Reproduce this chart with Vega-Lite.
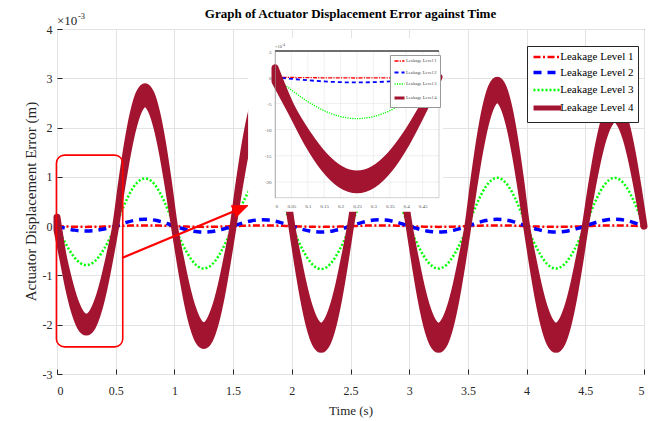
{
"$schema": "https://vega.github.io/schema/vega-lite/v6.json",
"width": 587, "height": 345,
"autosize": {"type": "none"},
"padding": {"left": 57, "top": 29, "right": 10, "bottom": 47},
"background": "white",
"config": {
  "font": "Liberation Serif",
  "view": {"stroke": "#262626", "strokeWidth": 1},
  "axis": {"labelFont": "Liberation Serif", "titleFont": "Liberation Serif", "labelColor": "#262626", "titleColor": "#262626", "titleFontWeight": "normal"},
  "legend": {"labelFont": "Liberation Serif"},
  "text": {"font": "Liberation Serif"}
},
"title": {"text": "Graph of Actuator Displacement Error against Time", "fontSize": 13, "fontWeight": "bold", "font": "Liberation Serif", "anchor": "middle", "frame": "group", "offset": 8, "dy": 17, "color": "#000000"},
"data": {"values": [
{"t":0,"l1":0,"l2":0,"l3":0,"lo":-0.08,"hi":0.18},
{"t":0.05,"l1":-0.005,"l2":-0.031,"l3":-0.244,"lo":-0.664,"hi":-0.572},
{"t":0.1,"l1":-0.009,"l2":-0.059,"l3":-0.465,"lo":-1.264,"hi":-1.088},
{"t":0.15,"l1":-0.012,"l2":-0.081,"l3":-0.639,"lo":-1.739,"hi":-1.497},
{"t":0.2,"l1":-0.014,"l2":-0.095,"l3":-0.751,"lo":-2.045,"hi":-1.759},
{"t":0.25,"l1":-0.015,"l2":-0.1,"l3":-0.79,"lo":-2.15,"hi":-1.85},
{"t":0.3,"l1":-0.014,"l2":-0.095,"l3":-0.751,"lo":-2.045,"hi":-1.759},
{"t":0.35,"l1":-0.012,"l2":-0.081,"l3":-0.639,"lo":-1.739,"hi":-1.497},
{"t":0.4,"l1":-0.009,"l2":-0.059,"l3":-0.465,"lo":-1.264,"hi":-1.088},
{"t":0.45,"l1":-0.005,"l2":-0.031,"l3":-0.244,"lo":-0.664,"hi":-0.572},
{"t":0.5,"l1":0,"l2":0,"l3":0,"lo":0,"hi":0},
{"t":0.55,"l1":0.005,"l2":0.043,"l3":0.3,"lo":0.769,"hi":0.874},
{"t":0.6,"l1":0.009,"l2":0.082,"l3":0.57,"lo":1.464,"hi":1.664},
{"t":0.65,"l1":0.012,"l2":0.113,"l3":0.785,"lo":2.014,"hi":2.289},
{"t":0.7,"l1":0.014,"l2":0.133,"l3":0.922,"lo":2.368,"hi":2.691},
{"t":0.75,"l1":0.015,"l2":0.14,"l3":0.97,"lo":2.49,"hi":2.83},
{"t":0.8,"l1":0.014,"l2":0.133,"l3":0.922,"lo":2.368,"hi":2.691},
{"t":0.85,"l1":0.012,"l2":0.113,"l3":0.785,"lo":2.014,"hi":2.289},
{"t":0.9,"l1":0.009,"l2":0.082,"l3":0.57,"lo":1.464,"hi":1.664},
{"t":0.95,"l1":0.005,"l2":0.043,"l3":0.3,"lo":0.769,"hi":0.874},
{"t":1.0,"l1":0,"l2":0,"l3":0,"lo":0,"hi":0},
{"t":1.05,"l1":-0.005,"l2":-0.037,"l3":-0.266,"lo":-0.748,"hi":-0.624},
{"t":1.1,"l1":-0.009,"l2":-0.071,"l3":-0.506,"lo":-1.423,"hi":-1.188},
{"t":1.15,"l1":-0.012,"l2":-0.097,"l3":-0.696,"lo":-1.958,"hi":-1.634},
{"t":1.2,"l1":-0.014,"l2":-0.114,"l3":-0.818,"lo":-2.301,"hi":-1.921},
{"t":1.25,"l1":-0.015,"l2":-0.12,"l3":-0.86,"lo":-2.42,"hi":-2.02},
{"t":1.3,"l1":-0.014,"l2":-0.114,"l3":-0.818,"lo":-2.301,"hi":-1.921},
{"t":1.35,"l1":-0.012,"l2":-0.097,"l3":-0.696,"lo":-1.958,"hi":-1.634},
{"t":1.4,"l1":-0.009,"l2":-0.071,"l3":-0.506,"lo":-1.423,"hi":-1.188},
{"t":1.45,"l1":-0.005,"l2":-0.037,"l3":-0.266,"lo":-0.748,"hi":-0.624},
{"t":1.5,"l1":0,"l2":0,"l3":0,"lo":0,"hi":0},
{"t":1.55,"l1":0.005,"l2":0.04,"l3":0.294,"lo":0.748,"hi":0.859},
{"t":1.6,"l1":0.009,"l2":0.076,"l3":0.559,"lo":1.423,"hi":1.635},
{"t":1.65,"l1":0.012,"l2":0.105,"l3":0.769,"lo":1.958,"hi":2.249},
{"t":1.7,"l1":0.014,"l2":0.124,"l3":0.903,"lo":2.301,"hi":2.644},
{"t":1.75,"l1":0.015,"l2":0.13,"l3":0.95,"lo":2.42,"hi":2.78},
{"t":1.8,"l1":0.014,"l2":0.124,"l3":0.903,"lo":2.301,"hi":2.644},
{"t":1.85,"l1":0.012,"l2":0.105,"l3":0.769,"lo":1.958,"hi":2.249},
{"t":1.9,"l1":0.009,"l2":0.076,"l3":0.559,"lo":1.423,"hi":1.635},
{"t":1.95,"l1":0.005,"l2":0.04,"l3":0.294,"lo":0.748,"hi":0.859},
{"t":2.0,"l1":0,"l2":0,"l3":0,"lo":0,"hi":0},
{"t":2.05,"l1":-0.005,"l2":-0.037,"l3":-0.269,"lo":-0.773,"hi":-0.627},
{"t":2.1,"l1":-0.009,"l2":-0.071,"l3":-0.512,"lo":-1.47,"hi":-1.194},
{"t":2.15,"l1":-0.012,"l2":-0.097,"l3":-0.704,"lo":-2.023,"hi":-1.642},
{"t":2.2,"l1":-0.014,"l2":-0.114,"l3":-0.827,"lo":-2.378,"hi":-1.931},
{"t":2.25,"l1":-0.015,"l2":-0.12,"l3":-0.87,"lo":-2.5,"hi":-2.03},
{"t":2.3,"l1":-0.014,"l2":-0.114,"l3":-0.827,"lo":-2.378,"hi":-1.931},
{"t":2.35,"l1":-0.012,"l2":-0.097,"l3":-0.704,"lo":-2.023,"hi":-1.642},
{"t":2.4,"l1":-0.009,"l2":-0.071,"l3":-0.512,"lo":-1.47,"hi":-1.194},
{"t":2.45,"l1":-0.005,"l2":-0.037,"l3":-0.269,"lo":-0.773,"hi":-0.627},
{"t":2.5,"l1":0,"l2":0,"l3":0,"lo":0,"hi":0},
{"t":2.55,"l1":0.005,"l2":0.04,"l3":0.278,"lo":0.686,"hi":0.797},
{"t":2.6,"l1":0.009,"l2":0.076,"l3":0.529,"lo":1.305,"hi":1.517},
{"t":2.65,"l1":0.012,"l2":0.105,"l3":0.728,"lo":1.796,"hi":2.087},
{"t":2.7,"l1":0.014,"l2":0.124,"l3":0.856,"lo":2.111,"hi":2.454},
{"t":2.75,"l1":0.015,"l2":0.13,"l3":0.9,"lo":2.22,"hi":2.58},
{"t":2.8,"l1":0.014,"l2":0.124,"l3":0.856,"lo":2.111,"hi":2.454},
{"t":2.85,"l1":0.012,"l2":0.105,"l3":0.728,"lo":1.796,"hi":2.087},
{"t":2.9,"l1":0.009,"l2":0.076,"l3":0.529,"lo":1.305,"hi":1.517},
{"t":2.95,"l1":0.005,"l2":0.04,"l3":0.278,"lo":0.686,"hi":0.797},
{"t":3.0,"l1":0,"l2":0,"l3":0,"lo":0,"hi":0},
{"t":3.05,"l1":-0.005,"l2":-0.037,"l3":-0.266,"lo":-0.773,"hi":-0.627},
{"t":3.1,"l1":-0.009,"l2":-0.071,"l3":-0.506,"lo":-1.47,"hi":-1.194},
{"t":3.15,"l1":-0.012,"l2":-0.097,"l3":-0.696,"lo":-2.023,"hi":-1.642},
{"t":3.2,"l1":-0.014,"l2":-0.114,"l3":-0.818,"lo":-2.378,"hi":-1.931},
{"t":3.25,"l1":-0.015,"l2":-0.12,"l3":-0.86,"lo":-2.5,"hi":-2.03},
{"t":3.3,"l1":-0.014,"l2":-0.114,"l3":-0.818,"lo":-2.378,"hi":-1.931},
{"t":3.35,"l1":-0.012,"l2":-0.097,"l3":-0.696,"lo":-2.023,"hi":-1.642},
{"t":3.4,"l1":-0.009,"l2":-0.071,"l3":-0.506,"lo":-1.47,"hi":-1.194},
{"t":3.45,"l1":-0.005,"l2":-0.037,"l3":-0.266,"lo":-0.773,"hi":-0.627},
{"t":3.5,"l1":0,"l2":0,"l3":0,"lo":0,"hi":0},
{"t":3.55,"l1":0.005,"l2":0.043,"l3":0.303,"lo":0.794,"hi":0.915},
{"t":3.6,"l1":0.009,"l2":0.082,"l3":0.576,"lo":1.511,"hi":1.74},
{"t":3.65,"l1":0.012,"l2":0.113,"l3":0.793,"lo":2.079,"hi":2.395},
{"t":3.7,"l1":0.014,"l2":0.133,"l3":0.932,"lo":2.444,"hi":2.815},
{"t":3.75,"l1":0.015,"l2":0.14,"l3":0.98,"lo":2.57,"hi":2.96},
{"t":3.8,"l1":0.014,"l2":0.133,"l3":0.932,"lo":2.444,"hi":2.815},
{"t":3.85,"l1":0.012,"l2":0.113,"l3":0.793,"lo":2.079,"hi":2.395},
{"t":3.9,"l1":0.009,"l2":0.082,"l3":0.576,"lo":1.511,"hi":1.74},
{"t":3.95,"l1":0.005,"l2":0.043,"l3":0.303,"lo":0.794,"hi":0.915},
{"t":4.0,"l1":0,"l2":0,"l3":0,"lo":0,"hi":0},
{"t":4.05,"l1":-0.005,"l2":-0.037,"l3":-0.266,"lo":-0.773,"hi":-0.627},
{"t":4.1,"l1":-0.009,"l2":-0.071,"l3":-0.506,"lo":-1.47,"hi":-1.194},
{"t":4.15,"l1":-0.012,"l2":-0.097,"l3":-0.696,"lo":-2.023,"hi":-1.642},
{"t":4.2,"l1":-0.014,"l2":-0.114,"l3":-0.818,"lo":-2.378,"hi":-1.931},
{"t":4.25,"l1":-0.015,"l2":-0.12,"l3":-0.86,"lo":-2.5,"hi":-2.03},
{"t":4.3,"l1":-0.014,"l2":-0.114,"l3":-0.818,"lo":-2.378,"hi":-1.931},
{"t":4.35,"l1":-0.012,"l2":-0.097,"l3":-0.696,"lo":-2.023,"hi":-1.642},
{"t":4.4,"l1":-0.009,"l2":-0.071,"l3":-0.506,"lo":-1.47,"hi":-1.194},
{"t":4.45,"l1":-0.005,"l2":-0.037,"l3":-0.266,"lo":-0.773,"hi":-0.627},
{"t":4.5,"l1":0,"l2":0,"l3":0,"lo":0,"hi":0},
{"t":4.55,"l1":0.005,"l2":0.043,"l3":0.303,"lo":0.671,"hi":0.782},
{"t":4.6,"l1":0.009,"l2":0.082,"l3":0.576,"lo":1.276,"hi":1.488},
{"t":4.65,"l1":0.012,"l2":0.113,"l3":0.793,"lo":1.756,"hi":2.047},
{"t":4.7,"l1":0.014,"l2":0.133,"l3":0.932,"lo":2.064,"hi":2.406},
{"t":4.75,"l1":0.015,"l2":0.14,"l3":0.98,"lo":2.17,"hi":2.53},
{"t":4.8,"l1":0.014,"l2":0.133,"l3":0.932,"lo":2.064,"hi":2.406},
{"t":4.85,"l1":0.012,"l2":0.113,"l3":0.793,"lo":1.756,"hi":2.047},
{"t":4.9,"l1":0.009,"l2":0.082,"l3":0.576,"lo":1.276,"hi":1.488},
{"t":4.95,"l1":0.005,"l2":0.043,"l3":0.303,"lo":0.671,"hi":0.782},
{"t":5.0,"l1":0,"l2":0,"l3":0,"lo":0,"hi":0}
]},
"layer": [
 {"layer": [
  {"transform": [{"fold": ["l1","l2","l3"], "as": ["series","v"]}],
   "mark": {"type": "line", "interpolate": "monotone"},
   "encoding": {
     "x": {"field": "t", "type": "quantitative", "title": "Time (s)",
           "scale": {"domain": [0,5], "nice": false, "zero": false},
           "axis": {"values": [0,0.5,1,1.5,2,2.5,3,3.5,4,4.5,5], "labelExpr": "datum.value", "titleFontSize": 13, "labelFontSize": 12, "grid": true, "gridColor": "#e3e3e3", "tickSize": -5, "tickColor": "#262626", "labelPadding": 16, "domain": false, "titleY": 36, "titleBaseline": "middle"}},
     "y": {"field": "v", "type": "quantitative", "title": "Actuator Displacement Error (m)",
           "scale": {"domain": [-3,4], "nice": false, "zero": false},
           "axis": {"values": [-3,-2,-1,0,1,2,3,4], "labelExpr": "datum.value", "titleFontSize": 15, "labelFontSize": 12, "grid": true, "gridColor": "#e3e3e3", "tickSize": -5, "tickColor": "#262626", "labelPadding": 10, "domain": false, "titleX": -27, "titleY": 172, "titleBaseline": "middle", "titleAlign": "center"}},
     "color": {"field": "series", "type": "nominal",
           "scale": {"domain": ["l1","l2","l3","l4"], "range": ["#ff0000","#0000ff","#00ff00","#a2142f"]},
           "legend": {"title": null, "orient": "none", "legendX": 470, "legendY": 17, "symbolType": "M-2.5,0L2.5,0", "symbolSize": 121, "symbolOffset": 8.25, "labelOffset": 5, "labelFontSize": 11, "labelColor": "#000000", "strokeColor": "#262626", "fillColor": "#ffffff", "padding": 4, "rowPadding": 3, "labelExpr": "'Leakage Level ' + substring(datum.label, 1)"}},
     "strokeDash": {"field": "series", "type": "nominal",
           "scale": {"domain": ["l1","l2","l3","l4"], "range": [[7,2.5,2,2.5],[8,6],[2,2],[1,0]]}},
     "strokeWidth": {"field": "series", "type": "nominal",
           "scale": {"type": "ordinal", "domain": ["l1","l2","l3","l4"], "range": [2.5,3.5,2.5,5]}}
   }},
  {"mark": {"type": "area", "interpolate": "monotone", "color": "#a2142f", "stroke": "#a2142f", "strokeWidth": 7, "strokeJoin": "round"},
   "encoding": {
     "x": {"field": "t", "type": "quantitative", "title": "Time (s)"},
     "y": {"field": "lo", "type": "quantitative", "title": "Actuator Displacement Error (m)"},
     "y2": {"field": "hi"}
   }},
  {"data": {"values": [{}]},
   "mark": {"type": "rect", "fill": "transparent", "stroke": "#ff0000", "strokeWidth": 1.6, "cornerRadius": 8},
   "encoding": {"x": {"datum": -0.005, "type": "quantitative"}, "x2": {"datum": 0.56}, "y": {"datum": 1.44, "type": "quantitative"}, "y2": {"datum": -2.45}}},
  {"data": {"values": [{}]},
   "mark": {"type": "rule", "color": "#ff0000", "strokeWidth": 2.2},
   "encoding": {"x": {"datum": 0.554, "type": "quantitative"}, "x2": {"datum": 1.569}, "y": {"datum": -0.645, "type": "quantitative"}, "y2": {"datum": 0.363}}},
  {"data": {"values": [{}]},
   "mark": {"type": "point", "shape": "M0,-1L0.8,1L-0.8,1Z", "filled": true, "color": "#ff0000", "opacity": 1, "size": 289, "angle": 67},
   "encoding": {"x": {"datum": 1.569, "type": "quantitative"}, "y": {"datum": 0.363, "type": "quantitative"}}},
  {"data": {"values": [{}]},
   "mark": {"type": "text", "align": "left", "baseline": "alphabetic", "dy": -4, "fontSize": 13, "color": "#262626"},
   "encoding": {"x": {"datum": 0, "type": "quantitative"}, "y": {"datum": 4, "type": "quantitative"}, "text": {"value": "×10"}}},
  {"data": {"values": [{}]},
   "mark": {"type": "text", "align": "left", "baseline": "alphabetic", "dx": 21, "dy": -10, "fontSize": 8.5, "color": "#262626"},
   "encoding": {"x": {"datum": 0, "type": "quantitative"}, "y": {"datum": 4, "type": "quantitative"}, "text": {"value": "-3"}}}
 ]},
 {"layer": [
  {"data": {"values": [{}]},
   "mark": {"type": "rect", "fill": "#ffffff", "strokeWidth": 0},
   "encoding": {
     "x": {"datum": -0.082, "type": "quantitative",
           "scale": {"domain": [0,0.5], "range": [218,382], "nice": false, "zero": false},
           "axis": {"orient": "bottom", "offset": -176.3, "values": [0,0.05,0.1,0.15,0.2,0.25,0.3,0.35,0.4,0.45], "labelExpr": "datum.value", "labelFontSize": 5, "labelColor": "#555555", "grid": false, "ticks": false, "domain": false, "labelPadding": 6, "title": null, "zindex": 1}},
     "x2": {"datum": 0.512},
     "y": {"datum": 0.748, "type": "quantitative",
           "scale": {"domain": [-2.3,0.5], "range": [168.7,22], "nice": false, "zero": false},
           "axis": {"orient": "left", "offset": -218, "values": [0.5,0,-0.5,-1,-1.5,-2], "labelExpr": "'' + round(datum.value*10)", "labelFontSize": 5, "labelColor": "#555555", "grid": false, "ticks": false, "domain": true, "domainColor": "#999999", "domainWidth": 0.6, "labelPadding": 4, "title": null, "zindex": 1}},
     "y2": {"datum": -2.57}
   }},
  {"data": {"values": [{"g":0.05},{"g":0.1},{"g":0.15},{"g":0.2},{"g":0.25},{"g":0.3},{"g":0.35},{"g":0.4},{"g":0.45}]},
   "mark": {"type": "rule", "color": "#e6e6e6", "strokeWidth": 0.6},
   "encoding": {"x": {"field": "g", "type": "quantitative"}, "y": {"datum": -2.3, "type": "quantitative"}, "y2": {"datum": 0.5}}},
  {"data": {"values": [{"h":0},{"h":-0.5},{"h":-1},{"h":-1.5},{"h":-2}]},
   "mark": {"type": "rule", "color": "#e2e2e2", "strokeWidth": 0.6},
   "encoding": {"y": {"field": "h", "type": "quantitative"}, "x": {"datum": 0, "type": "quantitative"}, "x2": {"datum": 0.5}}},
  {"data": {"values": [{}]},
   "mark": {"type": "rect", "fill": "transparent", "stroke": "#b5b5b5", "strokeWidth": 0.6},
   "encoding": {"x": {"datum": 0, "type": "quantitative"}, "x2": {"datum": 0.5}, "y": {"datum": -2.3, "type": "quantitative"}, "y2": {"datum": 0.5}}},
  {"transform": [{"filter": {"field": "t", "lte": 0.5}}, {"fold": ["l1","l2","l3"], "as": ["series","v"]}],
   "mark": {"type": "line", "interpolate": "monotone"},
   "encoding": {
     "x": {"field": "t", "type": "quantitative"},
     "y": {"field": "v", "type": "quantitative"},
     "color": {"field": "series", "type": "nominal",
           "scale": {"domain": ["l1","l2","l3","l4"], "range": ["#ff0000","#0000ff","#00ff00","#a2142f"]},
           "legend": {"title": null, "orient": "none", "legendX": 333, "legendY": 26, "symbolType": "M-2.5,0L2.5,0", "symbolSize": 16, "symbolOffset": 3, "labelOffset": 3, "labelFontSize": 4.6, "labelColor": "#444444", "strokeColor": "#999999", "fillColor": "#ffffff", "padding": 3, "rowPadding": 4.5, "labelExpr": "'Leakage Level ' + substring(datum.label, 1)"}},
     "strokeDash": {"field": "series", "type": "nominal",
           "scale": {"domain": ["l1","l2","l3","l4"], "range": [[4,1.2,1.2,1.2],[4,3],[1.2,1.2],[1,0]]}},
     "strokeWidth": {"field": "series", "type": "nominal",
           "scale": {"type": "ordinal", "domain": ["l1","l2","l3","l4"], "range": [1.3,1.8,1.3,3]}}
   }},
  {"transform": [{"filter": {"field": "t", "lte": 0.5}}],
   "mark": {"type": "area", "interpolate": "monotone", "color": "#a2142f", "stroke": "#a2142f", "strokeWidth": 7, "strokeJoin": "round"},
   "encoding": {
     "x": {"field": "t", "type": "quantitative"},
     "y": {"field": "lo", "type": "quantitative"},
     "y2": {"field": "hi"}
   }},
  {"data": {"values": [{}]},
   "mark": {"type": "rule", "color": "#6e6e6e", "strokeWidth": 2.2},
   "encoding": {"x": {"datum": 0, "type": "quantitative"}, "x2": {"datum": 0.5}, "y": {"datum": 0.5, "type": "quantitative"}}},
  {"data": {"values": [{}]},
   "mark": {"type": "text", "align": "left", "baseline": "alphabetic", "dy": -3, "fontSize": 4.5, "color": "#555555"},
   "encoding": {"x": {"datum": 0, "type": "quantitative"}, "y": {"datum": 0.5, "type": "quantitative"}, "text": {"value": "×10"}}},
  {"data": {"values": [{}]},
   "mark": {"type": "text", "align": "left", "baseline": "alphabetic", "dx": 7, "dy": -5.5, "fontSize": 3.5, "color": "#555555"},
   "encoding": {"x": {"datum": 0, "type": "quantitative"}, "y": {"datum": 0.5, "type": "quantitative"}, "text": {"value": "-4"}}}
 ]}
],
"resolve": {"scale": {"x": "independent", "y": "independent", "color": "independent", "strokeDash": "independent", "strokeWidth": "independent"}}
}
